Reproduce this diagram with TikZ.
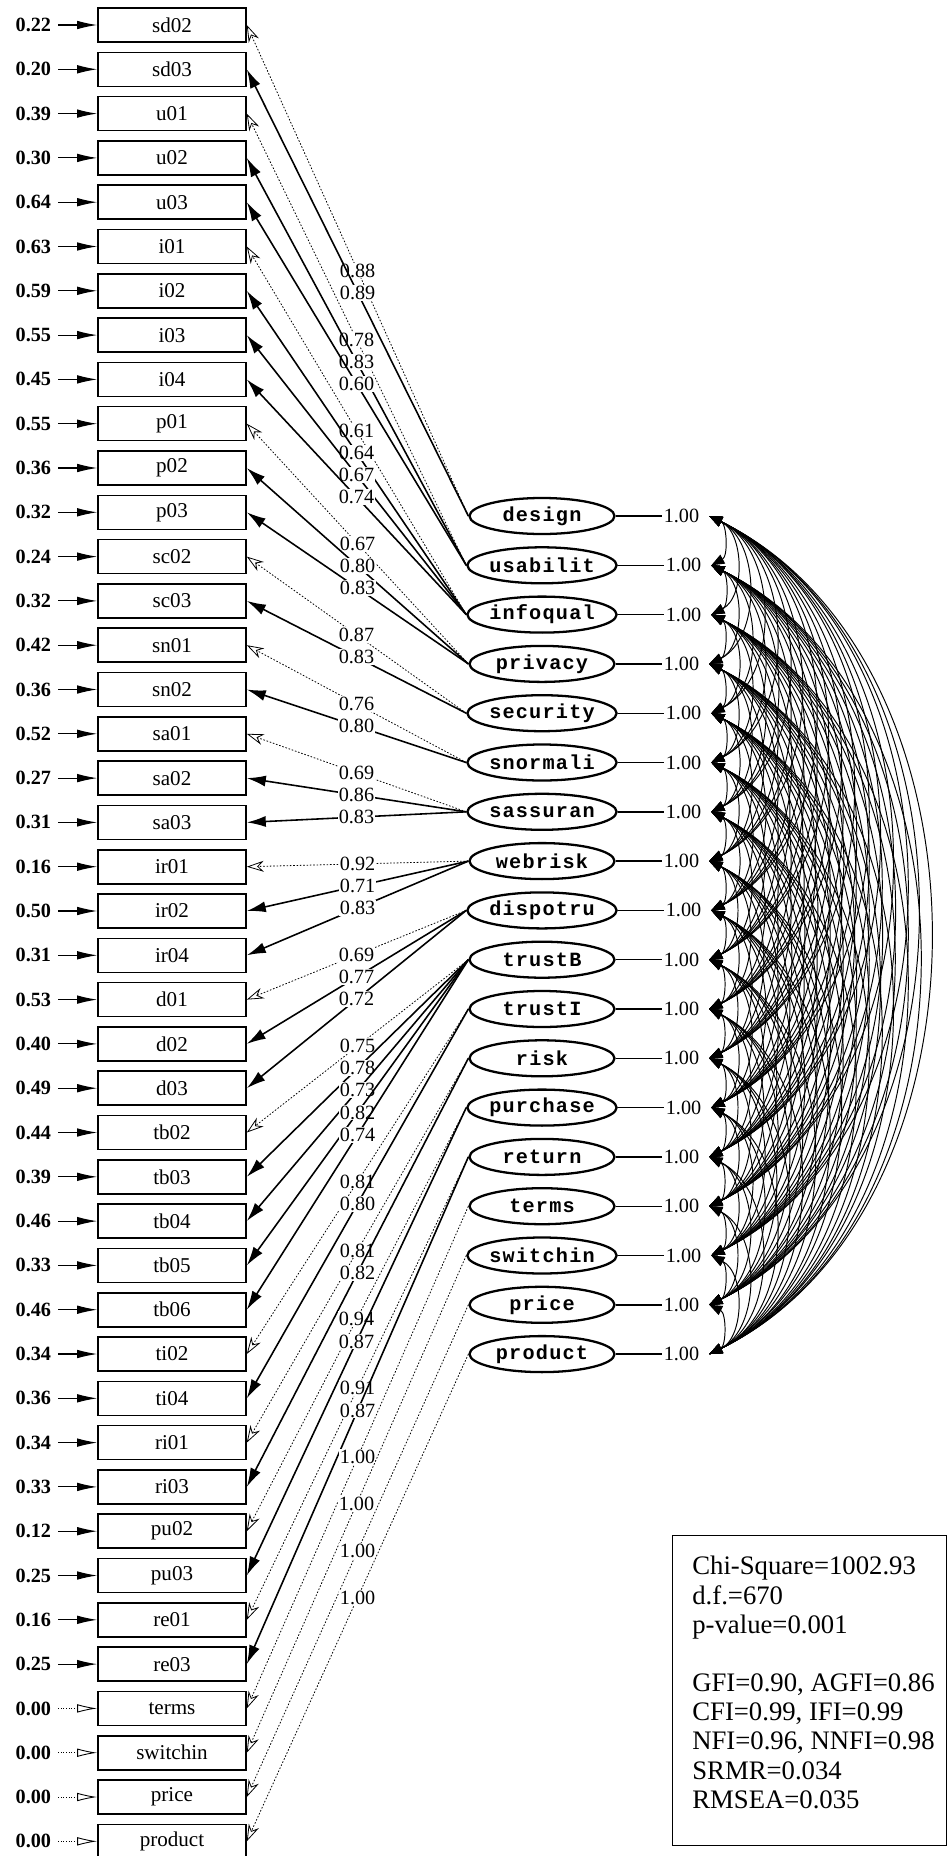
\documentclass[tikz,border=0pt]{standalone}
\usepackage{fontspec}
\setmainfont{Liberation Serif}
\newfontfamily\latfont[LetterSpace=6]{Liberation Mono}
\usetikzlibrary{arrows.meta,positioning,quotes,shapes.geometric}

\begin{document}
\begin{tikzpicture}[
            > = Stealth,
every edge quotes/.style = {font=\fontsize{11.5}{12}\selectfont, fill=white, inner sep=0.6pt, pos=0.5}, % loadings sit on the lines
every edge/.append style = {draw, line width=0.9pt, -{Latex[length=3.8mm,width=2.2mm]}},
      obs/.style = {rectangle, draw, line width=0.9pt, minimum width=2.96cm, minimum height=0.68cm, inner sep=0pt, font=\fontsize{12}{13}\selectfont},
      lat/.style = {ellipse, draw, line width=1.3pt, minimum width=2.9cm, minimum height=0.72cm, inner sep=0pt, font=\latfont\bfseries\fontsize{11.5}{13}\selectfont},
   errlbl/.style = {inner sep=1pt, font=\bfseries\fontsize{11.5}{12}\selectfont},
      var/.style = {inner sep=1pt, font=\fontsize{11.5}{12}\selectfont},
    fixed/.style = {densely dotted, line width=0.45pt, -{Stealth[open,length=3.4mm,width=2.2mm]}},
      err/.style = {line width=0.6pt, shorten <=1mm, -{Latex[length=4mm,width=1.7mm]}},
   errfix/.style = {densely dotted, line width=0.5pt, shorten <=1mm, -{Latex[open,length=4mm,width=1.7mm]}},
      cov/.style = {line width=0.55pt, {Triangle[length=2.6mm,width=2mm]}-{Triangle[length=2.6mm,width=2mm]}}
]
\useasboundingbox (0,0) rectangle (19,-37.12);

% indicators and their error variances
\foreach \name/\err/\s [count=\k from 0] in {sd02/0.22/err, sd03/0.20/err, u01/0.39/err, u02/0.30/err, u03/0.64/err,
    i01/0.63/err, i02/0.59/err, i03/0.55/err, i04/0.45/err, p01/0.55/err, p02/0.36/err, p03/0.32/err,
    sc02/0.24/err, sc03/0.32/err, sn01/0.42/err, sn02/0.36/err, sa01/0.52/err, sa02/0.27/err, sa03/0.31/err,
    ir01/0.16/err, ir02/0.50/err, ir04/0.31/err, d01/0.53/err, d02/0.40/err, d03/0.49/err,
    tb02/0.44/err, tb03/0.39/err, tb04/0.46/err, tb05/0.33/err, tb06/0.46/err, ti02/0.34/err, ti04/0.36/err,
    ri01/0.34/err, ri03/0.33/err, pu02/0.12/err, pu03/0.25/err, re01/0.16/err, re03/0.25/err,
    terms/0.00/errfix, switchin/0.00/errfix, price/0.00/errfix, product/0.00/errfix}{
  \node[obs] (\name) at (3.44,{-0.5-0.886*\k}) {\name};
  \node[errlbl, left=0.88cm of \name] (e\name) {\err};
  \draw[\s] (e\name) -- (\name);
}

% latent variables
\foreach \name/\txt [count=\k from 0] in {Design/design, Usabilit/usabilit, Infoqual/infoqual, Privacy/privacy,
    Security/security, Snormali/snormali, Sassuran/sassuran, Webrisk/webrisk, Dispotru/dispotru,
    TrustB/trustB, TrustI/trustI, Risk/risk, Purchase/purchase, Return/return, Terms/terms,
    Switchin/switchin, Price/price, Product/product}{
  \node[lat] (\name) at (10.84,{-10.32-0.986*\k}) {\txt};
  \node[var, right=0.92cm of \name] (v\name) {1.00};
  \draw[line width=0.8pt] (\name) -- (v\name);
  \coordinate[right=0.16cm of v\name] (cv\k);
}

% covariances
\foreach \i in {0,...,16}{
  \pgfmathtruncatemacro{\first}{\i+1}
  \foreach \j in {\first,...,17}
    \draw[cov] (cv\i) to[bend left=64] (cv\j);
}

\path
        (Design.west)   edge [fixed,"0.88"] (sd02.east)
                        edge ["0.89"]       (sd03.east)
        (Usabilit.west) edge [fixed,"0.78"] (u01.east)
                        edge ["0.83"]       (u02.east)
                        edge ["0.60"]       (u03.east)
        (Infoqual.west) edge [fixed,"0.61"] (i01.east)
                        edge ["0.64"]       (i02.east)
                        edge ["0.67"]       (i03.east)
                        edge ["0.74"]       (i04.east)
        (Privacy.west)  edge [fixed,"0.67"] (p01.east)
                        edge ["0.80"]       (p02.east)
                        edge ["0.83"]       (p03.east)
        (Security.west) edge [fixed,"0.87"] (sc02.east)
                        edge ["0.83"]       (sc03.east)
        (Snormali.west) edge [fixed,"0.76"] (sn01.east)
                        edge ["0.80"]       (sn02.east)
        (Sassuran.west) edge [fixed,"0.69"] (sa01.east)
                        edge ["0.86"]       (sa02.east)
                        edge ["0.83"]       (sa03.east)
        (Webrisk.west)  edge [fixed,"0.92"] (ir01.east)
                        edge ["0.71"]       (ir02.east)
                        edge ["0.83"]       (ir04.east)
        (Dispotru.west) edge [fixed,"0.69"] (d01.east)
                        edge ["0.77"]       (d02.east)
                        edge ["0.72"]       (d03.east)
        (TrustB.west)   edge [fixed,"0.75"] (tb02.east)
                        edge ["0.78"]       (tb03.east)
                        edge ["0.73"]       (tb04.east)
                        edge ["0.82"]       (tb05.east)
                        edge ["0.74"]       (tb06.east)
        (TrustI.west)   edge [fixed,"0.81"] (ti02.east)
                        edge ["0.80"]       (ti04.east)
        (Risk.west)     edge [fixed,"0.81"] (ri01.east)
                        edge ["0.82"]       (ri03.east)
        (Purchase.west) edge [fixed,"0.94"] (pu02.east)
                        edge ["0.87"]       (pu03.east)
        (Return.west)   edge [fixed,"0.91"] (re01.east)
                        edge ["0.87"]       (re03.east)
        (Terms.west)    edge [fixed,"1.00"] (terms.east)
        (Switchin.west) edge [fixed,"1.00"] (switchin.east)
        (Price.west)    edge [fixed,"1.00"] (price.east)
        (Product.west)  edge [fixed,"1.00"] (product.east);

% fit statistics
\node[draw, line width=0.6pt, minimum width=5.48cm, minimum height=6.2cm, anchor=north west] (fitbox) at (13.44,-30.7) {};
\node[anchor=north west, align=left, inner sep=0pt, font=\fontsize{15.2}{16.6}\selectfont] (fit)
    at ([xshift=0.4cm,yshift=-0.42cm]fitbox.north west)
    {Chi-Square=1002.93\\ d.f.=670\\ p-value=0.001\\[16.6pt]
     GFI=0.90, AGFI=0.86\\ CFI=0.99, IFI=0.99\\ NFI=0.96, NNFI=0.98\\ SRMR=0.034\\ RMSEA=0.035};

\end{tikzpicture}
\end{document}
